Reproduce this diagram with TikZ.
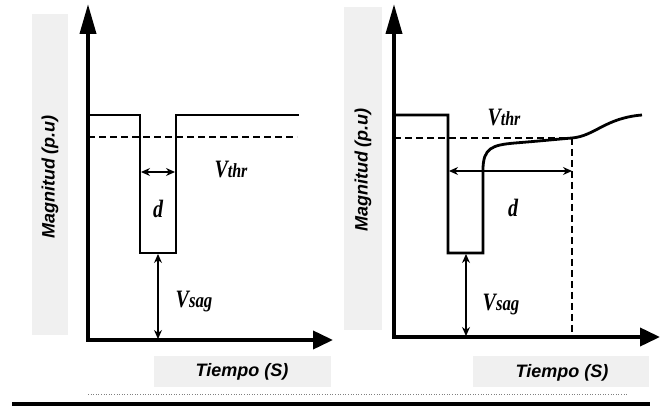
\documentclass[tikz,border=0pt]{standalone}
\usepackage{fontspec}
\setmainfont{Liberation Serif}
\newfontfamily\labfont{Liberation Sans}
\usetikzlibrary{arrows.meta}
\definecolor{boxgray}{HTML}{F0F0F0}
\begin{document}
\begin{tikzpicture}[x=1pt,y=-1pt,
  axisline/.style={line width=3.8pt},
  yax/.style={axisline,-{Triangle[length=30pt,width=16pt]}},
  xax/.style={axisline,-{Triangle[length=20pt,width=18pt]}},
  sig/.style={line width=2.8pt, line join=miter},
  thrline/.style={line width=1.2pt, dash pattern=on 7pt off 4pt},
  dimline/.style={line width=1.3pt,{Stealth[length=9pt,width=8pt]}-{Stealth[length=9pt,width=8pt]}},
  graybox/.style={fill=boxgray, draw=none},
  axlabel/.style={font=\labfont\bfseries\itshape\fontsize{18}{21}\selectfont, inner sep=0pt},
  vlabel/.style={font=\bfseries\itshape\fontsize{25}{28}\selectfont, inner sep=0pt, xscale=0.8}]
\useasboundingbox (0,0) rectangle (662,406);
% background label boxes
\fill[graybox] (32,14) rectangle (68,335);
\fill[graybox] (344,7) rectangle (382,330);
\fill[graybox] (154,356) rectangle (331,387);
\fill[graybox] (473,356) rectangle (649,387);
% labels
\node[axlabel, rotate=90] (lmag) at (50,177) {Magnitud (p.u)};
\node[axlabel, rotate=90] (rmag) at (363,170) {Magnitud (p.u)};
\node[axlabel] (ltime) at (242,372) {Tiempo (S)};
\node[axlabel] (rtime) at (562,373) {Tiempo (S)};
% ---------- left panel ----------
\coordinate (LO) at (88,340);
\coordinate (LOy) at (88,342);
\coordinate (LYT) at (88,4);
\coordinate (LXT) at (333,340);
\draw[yax] (LOy) -- (LYT);
\draw[xax] (LO) -- (LXT);
\coordinate (L1) at (88,115);
\coordinate (L2) at (140,115);
\coordinate (L3) at (140,253);
\coordinate (L4) at (176,253);
\coordinate (L5) at (176,115);
\coordinate (L6) at (299,115);
\draw[sig] (L1) -- (L2) -- (L3) -- (L4) -- (L5) -- (L6);
\coordinate (LT1) at (88,137);
\coordinate (LT2) at (297,137);
\draw[thrline] (LT1) -- (LT2);
\coordinate (LD1) at (141,172);
\coordinate (LD2) at (175,172);
\draw[dimline] (LD1) -- (LD2);
\coordinate (LS1) at (158,254);
\coordinate (LS2) at (158,339);
\draw[dimline] (LS1) -- (LS2);
\node[vlabel] (lthr) at (231,170) {V\fontsize{20}{22}\selectfont thr};
\node[vlabel] (ld) at (158,209) {d};
\node[vlabel] (lsag) at (194,302) {V\fontsize{21}{22}\selectfont sag};
% ---------- right panel ----------
\coordinate (RO) at (394,337);
\coordinate (ROy) at (394,339);
\coordinate (RYT) at (394,4);
\coordinate (RXT) at (660,337);
\draw[yax] (ROy) -- (RYT);
\draw[xax] (RO) -- (RXT);
\coordinate (R1) at (394,115);
\coordinate (R2) at (448,115);
\coordinate (R3) at (448,253);
\coordinate (R4) at (483,253);
\coordinate (R5) at (483,170);
\coordinate (R6) at (515,143);
\coordinate (R7) at (572,138);
\coordinate (R8) at (642,115);
\draw[sig] (R1) -- (R2) -- (R3) -- (R4) -- (R5)
  .. controls (483,148) and (492,145) .. (R6)
  .. controls (540,141) and (560,139) .. (R7)
  .. controls (595,136) and (605,118) .. (R8);
\coordinate (RT1) at (394,138);
\draw[thrline] (RT1) -- (R7);
\coordinate (RV) at (572,337);
\draw[thrline] (R7) -- (RV);
\coordinate (RD1) at (449,171);
\coordinate (RD2) at (572,171);
\draw[dimline] (RD1) -- (RD2);
\coordinate (RS1) at (466,254);
\coordinate (RS2) at (466,336);
\draw[dimline] (RS1) -- (RS2);
\node[vlabel] (rthr) at (504,118) {V\fontsize{20}{22}\selectfont thr};
\node[vlabel] (rd) at (513,208) {d};
\node[vlabel] (rsag) at (501,305) {V\fontsize{21}{22}\selectfont sag};
% ---------- bottom rules ----------
\coordinate (B1) at (12,404);
\coordinate (B2) at (650,404);
\draw[line width=3.5pt] (B1) -- (B2);
\coordinate (D1) at (88,394);
\coordinate (D2) at (627,394);
\draw[gray, line width=0.6pt, dotted] (D1) -- (D2);
\end{tikzpicture}
\end{document}
